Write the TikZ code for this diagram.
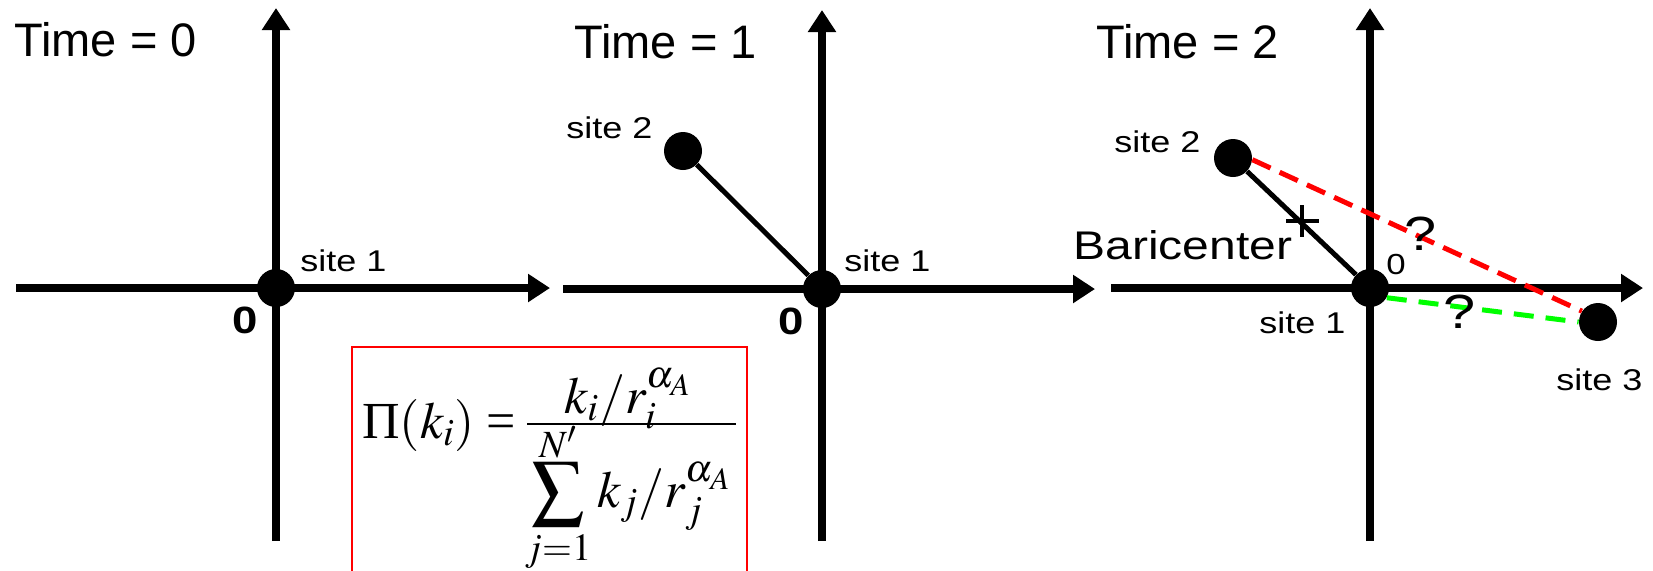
\documentclass[tikz,border=0pt]{standalone}
\usepackage{mathptmx}
\usepackage[no-math]{fontspec}
\setmainfont{Liberation Sans}
\newfontfamily\widefont{Liberation Sans}[FakeStretch=1.2]
\newfontfamily\serifgreek{Liberation Serif}
\usetikzlibrary{arrows.meta}
\begin{document}
\begin{tikzpicture}[x=0.5pt,y=-0.5pt,
  axis/.style={line width=4pt,-{Triangle[length=11pt,width=13.5pt]}},
  dot/.style={circle,fill=black,inner sep=0pt,minimum size=19pt},
  link/.style={line width=2.5pt},
  title/.style={anchor=base west,inner sep=0pt,font=\fontsize{23.5}{28}\selectfont},
  lbl/.style={anchor=base west,inner sep=0pt,font=\widefont\fontsize{15}{18}\selectfont},
  zero/.style={anchor=base west,inner sep=0pt,font=\widefont\bfseries\fontsize{19}{22}\selectfont},
  smallzero/.style={anchor=base west,inner sep=0pt,font=\widefont\fontsize{14.5}{17}\selectfont},
  bari/.style={anchor=base west,inner sep=0pt,font=\widefont\fontsize{20}{24}\selectfont},
  qmark/.style={anchor=base west,inner sep=0pt,font=\widefont\fontsize{24}{28}\selectfont},
  reddash/.style={draw=red,line width=2.5pt,dash pattern=on 10pt off 5pt},
  greendash/.style={draw=green,line width=2.5pt,dash pattern=on 10pt off 6pt},
  formbox/.style={draw=red,line width=1pt},
  formfont/.style={inner sep=0pt,font=\fontsize{26}{31}\selectfont}]
\useasboundingbox (0,0) rectangle (1653,570);
\clip (0,0) rectangle (1653,570);
% axes
\draw[axis] (16,288) -- (550,288);
\draw[axis] (276,541) -- (276,8);
\draw[axis] (563,289) -- (1095,289);
\draw[axis] (822,541) -- (822,10);
\draw[axis] (1111,288) -- (1643,288);
\draw[axis] (1370,541) -- (1370,8);
% titles
\node[title] (t0) at (14,56) {Time = 0};
\node[title] (t1) at (574,58) {Time = 1};
\node[title] (t2) at (1096,58) {Time = 2};
% panel 1
\node[dot] (a1) at (276,288) {};
\node[lbl] (la1) at (300,271) {site 1};
\node[zero] (za) at (232,333) {0};
% panel 2
\node[dot] (b1) at (822,289) {};
\node[dot] (b2) at (683,151) {};
\draw[link] (b2) -- (b1);
\node[lbl] (lb1) at (844,271) {site 1};
\node[lbl] (lb2) at (566,138) {site 2};
\node[zero] (zb) at (778,334) {0};
% panel 3
\node[dot] (c1) at (1370,288) {};
\node[dot] (c2) at (1233,158) {};
\node[dot] (c3) at (1598,322) {};
\draw[link] (c2) -- (c1);
\draw[reddash] (c2.355) -- (c3.146);
\draw[greendash] (c1.330) -- (c3.180);
\coordinate (bx) at (1302,221);
\draw[line width=2pt] (bx) ++(-16,0) -- ++(33,0);
\draw[line width=2pt] (bx) ++(0,-16) -- ++(0,32);
\node[lbl] (lc2) at (1114,152) {site 2};
\node[lbl] (lc1) at (1259,333) {site 1};
\node[lbl] (lc3) at (1556,390) {site 3};
\node[bari] (bar) at (1073,259) {Baricenter};
\node[smallzero] (zc) at (1386,274) {0};
\node[qmark] (q1) at (1404,250) {?};
\node[qmark] (q2) at (1443,328) {?};
% formula box
\draw[formbox] (352,620) -- (352,347) -- (747,347) -- (747,620);
\node[formfont,anchor=base west] (lhs) at (362,438) {$\mbox{\serifgreek Π}(k_{i})\mathrel{\mbox{\serifgreek =}}$};
\node[formfont,anchor=base] (num) at (628,413) {$k_{i}/r_{i}^{\alpha_{A}}$};
\node[formfont,anchor=base] (den) at (628,507)
  {$\displaystyle\sum_{j=1}^{\smash{\raisebox{-3pt}{$\scriptstyle N'$}}} k_{j}/r_{j}^{\alpha_{A}}$};
\coordinate (barL) at (527,424);
\coordinate (barR) at (736,424);
\draw[line width=1pt] (barL) -- (barR);
\end{tikzpicture}
\end{document}
